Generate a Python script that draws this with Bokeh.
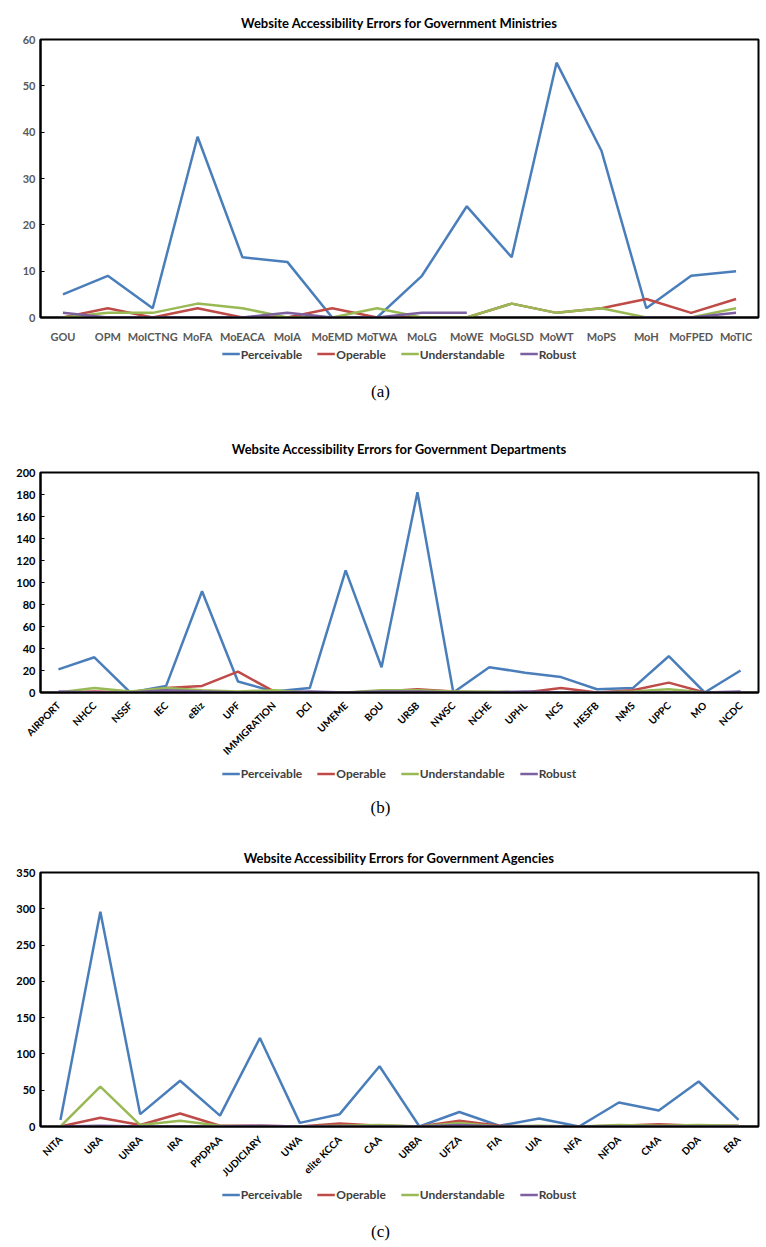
import math
from bokeh.plotting import figure
from bokeh.models import Range1d, FactorRange, FixedTicker, Legend, LegendItem, Div
from bokeh.layouts import column
from bokeh.embed import file_html
from bokeh.resources import INLINE

nan = float("nan")

# ---- Panel (a): Ministries ----
cat_a = ["GOU", "OPM", "MoICTNG", "MoFA", "MoEACA", "MoIA", "MoEMD", "MoTWA",
         "MoLG", "MoWE", "MoGLSD", "MoWT", "MoPS", "MoH", "MoFPED", "MoTIC"]
perc_a = [5, 9, 2, 39, 13, 12, 0, 0, 9, 24, 13, 55, 36, 2, 9, 10]
oper_a = [0, 2, 0, 2, 0, 0, 2, 0, 0, 0, 3, 1, 2, 4, 1, 4]
und_a = [0, 1, 1, 3, 2, 0, 0, 2, 0, 0, 3, 1, 2, 0, 0, 2]
rob_a = [1, 0, 0, 0, 0, 1, 0, 0, 1, 1, nan, 0, 0, 0, 0, 1]
yt_a = [0, 10, 20, 30, 40, 50, 60]

# ---- Panel (b): Departments ----
cat_b = ["AIRPORT", "NHCC", "NSSF", "IEC", "eBiz", "UPF", "IMMIGRATION", "DCI",
         "UMEME", "BOU", "URSB", "NWSC", "NCHE", "UPHL", "NCS", "HESFB", "NMS",
         "UPPC", "MO", "NCDC"]
perc_b = [21, 32, 0, 6, 92, 10, 1, 4, 111, 23, 182, 0, 23, 18, 14, 3, 4, 33, 0, 20]
oper_b = [0, 1, 0, 4, 6, 19, 1, 0, 0, 1, 3, 1, 0, 0, 4, 0, 2, 9, 0, 0]
und_b = [0, 4, 1, 4, 2, 1, 2, 0, 0, 2, 2, 1, 1, 0, 0, 0, 1, 3, 0, 0]
rob_b = [1, 0, 0, 2, 1, 0, 0, 1, 0, 1, 1, 0, 0, 1, 0, 0, 0, 0, 0, 1]
yt_b = [0, 20, 40, 60, 80, 100, 120, 140, 160, 180, 200]

# ---- Panel (c): Agencies ----
cat_c = ["NITA", "URA", "UNRA", "IRA", "PPDPAA", "JUDICIARY", "UWA", "elite KCCA",
         "CAA", "URBA", "UFZA", "FIA", "UIA", "NFA", "NFDA", "CMA", "DDA", "ERA"]
perc_c = [9, 296, 17, 63, 15, 122, 5, 17, 83, 0, 20, 1, 11, 0, 33, 22, 62, 9]
oper_c = [0, 12, 2, 18, 1, 1, 0, 4, 1, 0, 8, 1, 0, 0, 1, 3, 1, 1]
und_c = [0, 55, 2, 8, 1, 0, 0, 1, 2, 0, 5, 0, 1, 0, 2, 1, 2, 1]
rob_c = [0, 1, 0, 0, 0, 1, 0, 0, 0, 0, 2, 0, 0, 0, 0, 0, 0, 0]
yt_c = [0, 50, 100, 150, 200, 250, 300, 350]

series_names = ["Perceivable", "Operable", "Understandable", "Robust"]
colors = ["#4A7EBB", "#BE4B48", "#98B954", "#7D60A0"]
FONT = "Lato"
W = 761


def make_panel(title, cats, series, yticks, height, bt, bb, bl, rotate, lab_color, standoff):
    p = figure(width=W, height=height, x_range=FactorRange(*cats, range_padding=0),
               y_range=Range1d(yticks[0], yticks[-1]), output_backend="svg",
               toolbar_location=None, min_border_top=bt, min_border_bottom=bb,
               min_border_left=bl, min_border_right=3)
    p.title.text = title
    p.title.align = "center"
    p.title.text_font = FONT
    p.title.text_font_style = "bold"
    p.title.text_font_size = "13px"
    p.title.text_color = "#000000"
    p.title.standoff = standoff
    p.outline_line_color = "#000000"
    p.outline_line_width = 2
    p.xgrid.visible = False
    p.ygrid.visible = False
    for col, vals in zip(colors, series):
        p.line(x=cats, y=vals, line_color=col, line_width=2.5)
    p.yaxis.ticker = FixedTicker(ticks=yticks)
    p.yaxis.axis_line_color = "#000000"
    p.yaxis.axis_line_width = 2
    p.yaxis.major_tick_in = 4
    p.yaxis.major_tick_out = 0
    p.yaxis.minor_tick_line_color = None
    p.yaxis.major_label_text_font = FONT
    p.yaxis.major_label_text_font_style = "bold"
    p.yaxis.major_label_text_font_size = "11px"
    p.yaxis.major_label_text_color = lab_color
    p.xaxis.axis_line_color = "#000000"
    p.xaxis.axis_line_width = 2
    p.xaxis.major_tick_line_color = None
    p.xaxis.minor_tick_line_color = None
    p.xaxis.major_label_text_font = FONT
    p.xaxis.major_label_text_font_style = "bold"
    p.xaxis.major_label_text_font_size = "11px" if not rotate else "10px"
    p.xaxis.major_label_text_color = lab_color
    p.xaxis.major_label_standoff = 6 if not rotate else 5
    if rotate:
        p.xaxis.major_label_orientation = math.pi / 4
    return p


def legend_fig(height):
    lf = figure(width=W, height=height, x_range=Range1d(0, 1), y_range=Range1d(0, 1),
                x_axis_type=None, y_axis_type=None, output_backend="svg",
                toolbar_location=None, min_border=0, outline_line_color=None)
    lf.xgrid.visible = False
    lf.ygrid.visible = False
    items = []
    for name, col in zip(series_names, colors):
        # placeholder line outside the visible range: only its legend swatch is seen
        r = lf.line(x=[5, 6], y=[5, 6], line_color=col, line_width=2.5)
        items.append(LegendItem(label=name, renderers=[r]))
    leg = Legend(items=items, orientation="horizontal", location="center",
                 label_text_font=FONT, label_text_font_style="bold",
                 label_text_font_size="12px", label_text_color="#404040",
                 glyph_width=18, glyph_height=14, label_height=14,
                 label_standoff=1, spacing=15,
                 border_line_color=None, background_fill_alpha=0, margin=0,
                 padding=1)
    lf.add_layout(leg)
    return lf


def caption(text, height, center):
    return Div(text=text, width=W, height=height, margin=0,
               styles={"text-align": "center", "font-family": "Liberation Serif",
                       "font-size": "17px", "line-height": "%dpx" % (2 * center),
                       "width": "%dpx" % W})


pa = make_panel("Website Accessibility Errors for Government Ministries", cat_a,
                [perc_a, oper_a, und_a, rob_a], yt_a, 345, 39, 28, 38, False,
                "#595959", 18)
pb = make_panel("Website Accessibility Errors for Government Departments", cat_b,
                [perc_b, oper_b, und_b, rob_b], yt_b, 346, 54, 68, 40, True,
                "#000000", 32)
pc = make_panel("Website Accessibility Errors for Government Agencies", cat_c,
                [perc_c, oper_c, und_c, rob_c], yt_c, 347, 34, 55, 38, True,
                "#000000", 13)

layout = column(pa, legend_fig(17), caption("(a)", 56, 30),
                pb, legend_fig(18), caption("(b)", 56, 26),
                pc, legend_fig(18), caption("(c)", 40, 29), spacing=0)

open("out.html", "w").write(file_html(layout, INLINE))
